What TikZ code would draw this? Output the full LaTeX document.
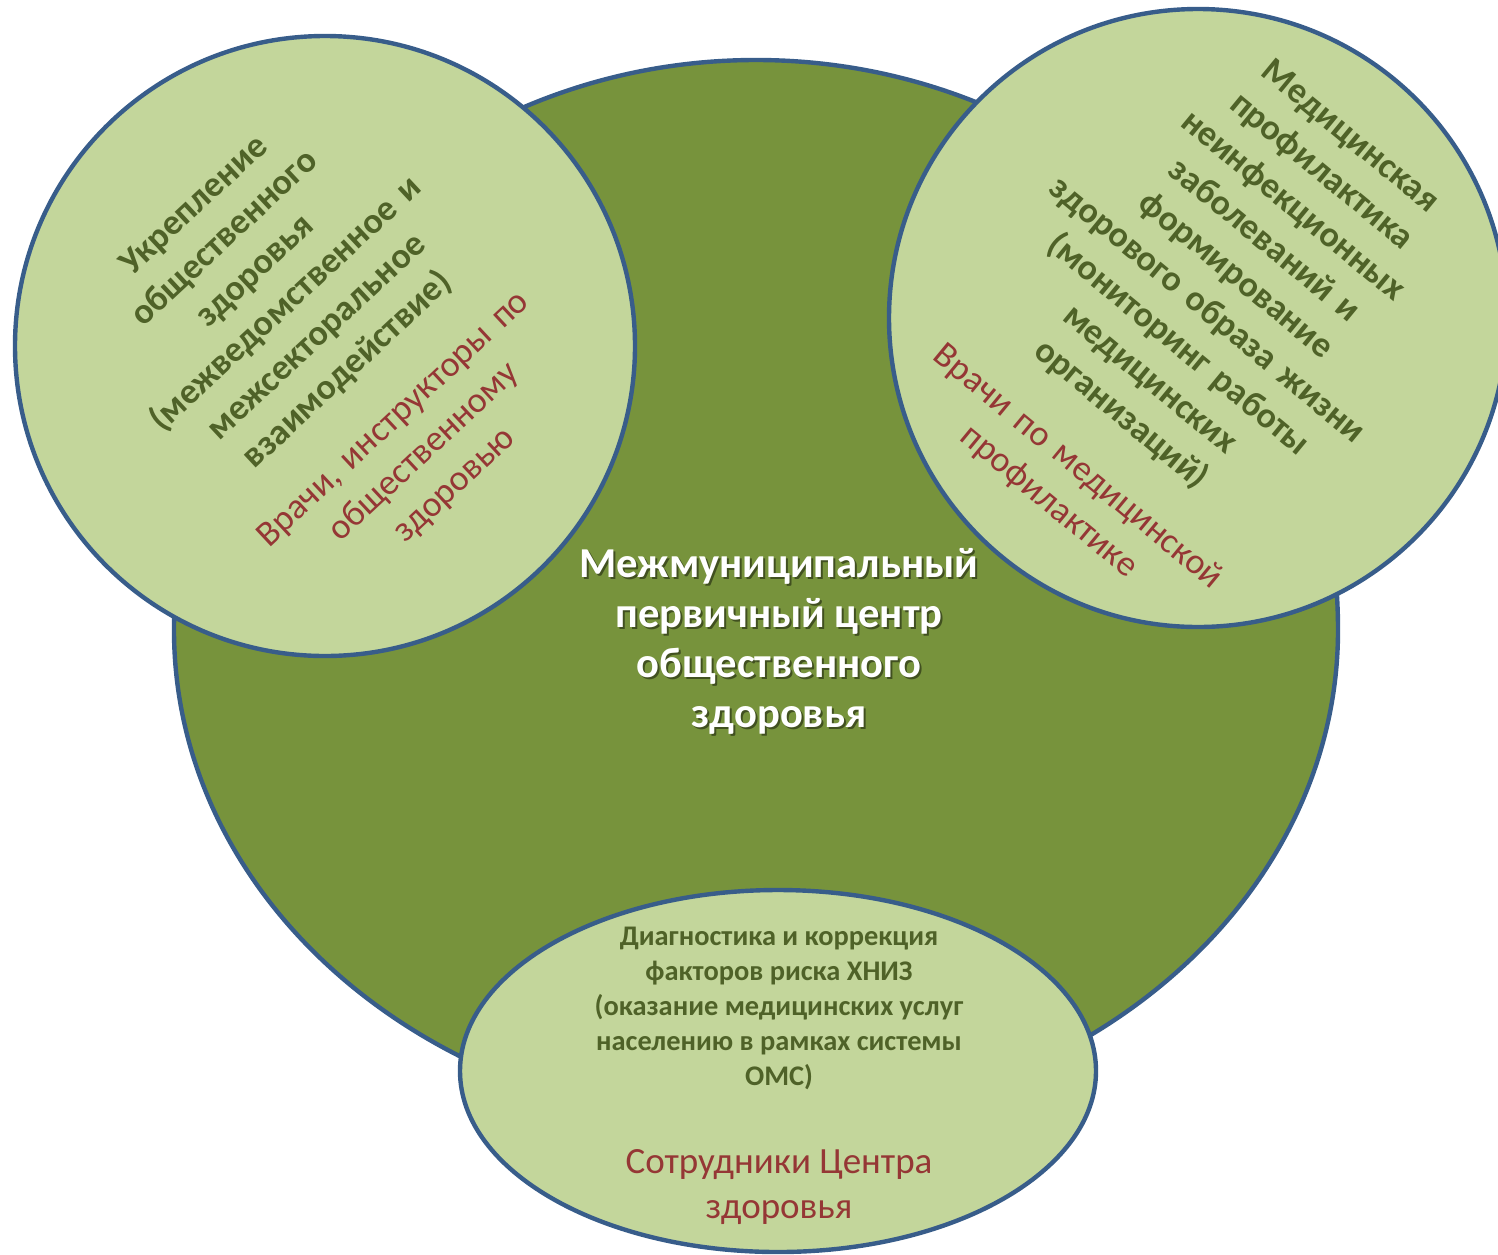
\documentclass[tikz,border=0pt]{standalone}
\usepackage{fontspec}
\setmainfont{Carlito}
\usetikzlibrary{positioning}

\definecolor{bodygreen}{RGB}{119,147,60}
\definecolor{discgreen}{RGB}{195,214,155}
\definecolor{rimblue}{RGB}{56,93,138}
\definecolor{leafgreen}{RGB}{79,98,40}
\definecolor{staffred}{RGB}{149,55,53}

\tikzset{
  disc/.style={draw=rimblue, line width=2.2pt, fill=discgreen},
  sidetext/.style={align=center, text width=280pt, text=leafgreen,
    font=\fontsize{18}{22.5}\selectfont\bfseries},
  titletext/.style={align=center, text=white,
    font=\fontsize{21.3}{25}\selectfont\bfseries},
  basetext/.style={align=center, text=leafgreen,
    font=\fontsize{14.2}{17.5}\selectfont\bfseries},
  stafftext/.style={align=center, text=staffred,
    font=\fontsize{18.5}{22.5}\selectfont}
}

\begin{document}
\begin{tikzpicture}[x=0.5pt, y=-0.5pt]
    \useasboundingbox (0,0) rectangle (1498,1254);
    \clip (0,0) rectangle (1498,1254);

    % Centre body
    \draw[draw=rimblue, line width=2.2pt, fill=bodygreen] (174,630)
        arc[start angle=180, end angle=0, x radius=291pt, y radius=285pt]
        arc[start angle=0, end angle=-180, x radius=291pt, y radius=247.5pt] -- cycle;

    % Side discs and the base
    \draw[disc] (325,346) circle (155pt);
    \draw[disc] (1198,318) circle (154.5pt);
    \draw[disc] (778,1071) ellipse (159pt and 90.5pt);

    % Public health strengthening
    \node[sidetext, rotate=43] (publichealth) at (325,346)
        {Укрепление\\общественного\\здоровья\\(межведомственное и\\межсекторальное\\взаимодействие)\\[11pt]
         \color{staffred}\mdseries Врачи, инструкторы по\\общественному\\здоровью};

    % Prevention
    \node[sidetext, rotate=-39.5] (prevention) at (1199,320)
        {Медицинская\\профилактика\\неинфекционных\\заболеваний и\\формирование\\здорового образа жизни\\(мониторинг работы\\медицинских\\организаций)\\[11.5pt]
         \color{staffred}\mdseries Врачи по медицинской\\профилактике};

    % Centre title with its shadow
    \node[titletext, text=black, opacity=0.45] (titleshadow) at (781,643)
        {Межмуниципальный\\первичный центр\\общественного\\здоровья};
    \node[titletext] (title) at (779,641)
        {Межмуниципальный\\первичный центр\\общественного\\здоровья};

    % Risk factors
    \node[basetext] (riskfactors) at (779,1008)
        {Диагностика и коррекция\\факторов риска ХНИЗ\\(оказание медицинских услуг\\населению в рамках системы\\ОМС)};
    \node[stafftext] (centrestaff) at (779,1187) {Сотрудники Центра\\здоровья};
\end{tikzpicture}
\end{document}
